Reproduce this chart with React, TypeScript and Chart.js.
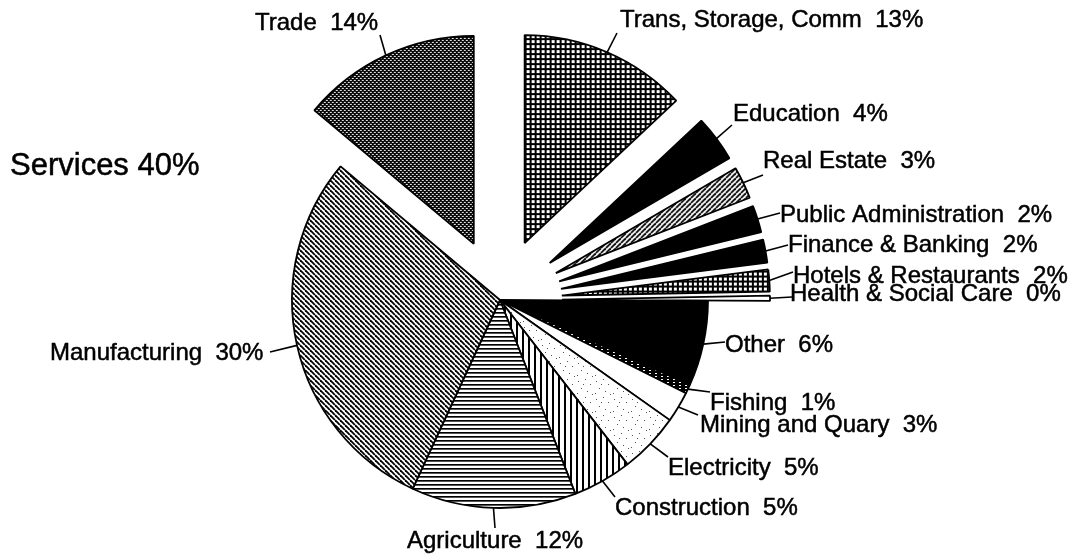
import React, { useEffect, useRef } from "react";
import { Chart, registerables } from "chart.js";

Chart.register(...registerables);

// ---- data (clockwise from 12 o'clock) ----
const categories: string[] = [
  "Trans, Storage, Comm",
  "Education",
  "Real Estate",
  "Public Administration",
  "Finance & Banking",
  "Hotels & Restaurants",
  "Health & Social Care",
  "Other",
  "Fishing",
  "Mining and Quary",
  "Electricity",
  "Construction",
  "Agriculture",
  "Manufacturing",
  "Trade",
];
// slice sizes (percent of the circle)
const shares: number[] = [13.0, 3.6, 2.5, 2.1, 1.8, 1.7, 0.4, 6.6, 0.7, 2.4, 4.7, 4.6, 12.8, 29.2, 13.9];
// percentages printed on the labels
const printedPct: number[] = [13, 4, 3, 2, 2, 2, 0, 6, 1, 3, 5, 5, 12, 30, 14];
const sectors: string[] = [
  "Services", "Services", "Services", "Services", "Services", "Services", "Services",
  "Other", "Other", "Other", "Other", "Other", "Other", "Other",
  "Services",
];
const fillKinds: string[] = [
  "grid", "black", "slash", "black", "black", "grid", "white",
  "black", "speckle", "white", "stipple", "vlines", "hlines", "backslash",
  "dots",
];

// ---- layout / style (not data) ----
const EXPLODE = 62;
const FONT = "24px 'Liberation Sans', Arial, Helvetica, sans-serif";
const BIG_FONT = "31px 'Liberation Sans', Arial, Helvetica, sans-serif";
// leader line end points and label text anchors (left, baseline)
const labelLineEnd: [number, number][] = [
  [617, 33], [732, 125], [763, 175], [780, 213], [788, 245], [793, 272], [792, 297],
  [725, 342], [710, 392], [698, 415], [668, 457], [615, 497], [495, 528], [270, 352],
  [380, 35],
];
const labelText: [number, number][] = [
  [620, 27], [733, 121], [763, 168], [780, 222], [788, 252], [793, 283], [790, 301],
  [725, 352], [710, 410], [700, 432], [668, 475], [615, 515], [407, 548], [50, 360],
  [255, 30],
];
const servicesTitlePos: [number, number] = [10, 175];

function tile(w: number, h: number, draw: (g: CanvasRenderingContext2D) => void) {
  const c = document.createElement("canvas");
  c.width = w;
  c.height = h;
  const g = c.getContext("2d")!;
  draw(g);
  return c;
}

function makeFill(ctx: CanvasRenderingContext2D, kind: string): string | CanvasPattern {
  let t: HTMLCanvasElement | null = null;
  switch (kind) {
    case "black":
      return "#000";
    case "white":
      return "#fff";
    case "dots":
      t = tile(4, 4, (g) => {
        g.fillStyle = "#000";
        g.fillRect(0, 0, 4, 4);
        g.fillStyle = "#fff";
        g.fillRect(0, 0, 2, 1);
        g.fillRect(2, 2, 2, 1);
      });
      break;
    case "grid":
      t = tile(5, 5, (g) => {
        g.fillStyle = "#000";
        g.fillRect(0, 0, 5, 5);
        g.fillStyle = "#fff";
        g.fillRect(2, 2, 3, 3);
      });
      break;
    case "slash":
      t = tile(5, 5, (g) => {
        g.fillStyle = "#fff";
        g.fillRect(0, 0, 5, 5);
        g.strokeStyle = "#000";
        g.lineWidth = 1.8;
        for (let k = -1; k <= 1; k++) {
          g.beginPath();
          g.moveTo(k * 5, 5);
          g.lineTo(k * 5 + 5, 0);
          g.stroke();
        }
      });
      break;
    case "backslash":
      t = tile(5, 5, (g) => {
        g.fillStyle = "#fff";
        g.fillRect(0, 0, 5, 5);
        g.strokeStyle = "#000";
        g.lineWidth = 1.8;
        for (let k = -1; k <= 1; k++) {
          g.beginPath();
          g.moveTo(k * 5, 0);
          g.lineTo(k * 5 + 5, 5);
          g.stroke();
        }
      });
      break;
    case "hlines":
      t = tile(4, 4, (g) => {
        g.fillStyle = "#fff";
        g.fillRect(0, 0, 4, 4);
        g.fillStyle = "#000";
        g.fillRect(0, 0, 4, 1);
        g.fillStyle = "#555";
        g.fillRect(0, 1, 4, 1);
      });
      break;
    case "vlines":
      t = tile(6, 6, (g) => {
        g.fillStyle = "#fff";
        g.fillRect(0, 0, 6, 6);
        g.fillStyle = "#000";
        g.fillRect(0, 0, 2, 6);
      });
      break;
    case "stipple":
      t = tile(18, 18, (g) => {
        g.fillStyle = "#fff";
        g.fillRect(0, 0, 18, 18);
        g.fillStyle = "#555";
        const pts = [[2, 3], [9, 1], [14, 6], [5, 10], [11, 13], [16, 16], [1, 15], [7, 6]];
        pts.forEach(([x, y]) => g.fillRect(x, y, 1, 1));
      });
      break;
    case "speckle":
      t = tile(6, 3, (g) => {
        g.fillStyle = "#000";
        g.fillRect(0, 0, 6, 3);
        g.fillStyle = "#fff";
        g.fillRect(1, 1, 2, 1);
      });
      break;
  }
  if (!t) return "#888";
  return ctx.createPattern(t, "repeat") as CanvasPattern;
}

const explodePlugin = {
  id: "explode",
  beforeDatasetDraw(chart: any, args: any) {
    const ctx: CanvasRenderingContext2D = chart.ctx;
    const meta = args.meta;
    meta.data.forEach((el: any, i: number) => {
      const d = sectors[i] === "Services" ? EXPLODE : 0;
      const mid = (el.startAngle + el.endAngle) / 2;
      ctx.save();
      ctx.translate(Math.cos(mid) * d, Math.sin(mid) * d);
      el.draw(ctx);
      ctx.restore();
    });
    return false;
  },
};

const labelPlugin = {
  id: "pieLabels",
  afterDraw(chart: any) {
    const ctx: CanvasRenderingContext2D = chart.ctx;
    const meta = chart.getDatasetMeta(0);
    ctx.save();
    ctx.strokeStyle = "#000";
    ctx.fillStyle = "#000";
    ctx.font = FONT;
    ctx.textAlign = "left";
    ctx.textBaseline = "alphabetic";
    meta.data.forEach((el: any, i: number) => {
      const d = sectors[i] === "Services" ? EXPLODE : 0;
      const mid = (el.startAngle + el.endAngle) / 2;
      const r = el.outerRadius + d;
      const sx = el.x + Math.cos(mid) * r;
      const sy = el.y + Math.sin(mid) * r;
      const [ex, ey] = labelLineEnd[i];
      ctx.lineWidth = 1.6;
      ctx.beginPath();
      ctx.moveTo(sx, sy);
      ctx.lineTo(ex, ey);
      ctx.stroke();
      const [tx, ty] = labelText[i];
      const txt = `${categories[i]}  ${printedPct[i]}%`;
      ctx.fillText(txt, tx, ty);
      ctx.lineWidth = 0.5;
      ctx.strokeText(txt, tx, ty);
    });
    const servicesTotal = printedPct.reduce((s, v, i) => (sectors[i] === "Services" ? s + v : s), 0);
    ctx.font = BIG_FONT;
    const title = `Services ${servicesTotal}%`;
    ctx.fillText(title, servicesTitlePos[0], servicesTitlePos[1]);
    ctx.lineWidth = 0.5;
    ctx.strokeText(title, servicesTitlePos[0], servicesTitlePos[1]);
    ctx.restore();
  },
};

export default function App() {
  const ref = useRef<HTMLCanvasElement>(null);
  useEffect(() => {
    const canvas = ref.current!;
    const ctx = canvas.getContext("2d")!;
    const fills = fillKinds.map((k) => makeFill(ctx, k));
    const chart = new Chart(canvas, {
      type: "pie",
      data: {
        labels: categories,
        datasets: [
          {
            data: shares,
            backgroundColor: fills as any,
            borderColor: "#000",
            borderWidth: 1.8,
          },
        ],
      },
      options: {
        responsive: false,
        animation: false,
        radius: 208,
        layout: { padding: { left: 0, right: 72, top: 44, bottom: 0 } },
        plugins: {
          legend: { display: false },
          tooltip: { enabled: false },
        },
      } as any,
      plugins: [explodePlugin, labelPlugin],
    });
    return () => chart.destroy();
  }, []);
  return (
    <div style={{ position: "absolute", left: 0, top: 0, width: 1072, height: 556, background: "#fff" }}>
      <canvas ref={ref} width={1072} height={556} style={{ display: "block" }} />
    </div>
  );
}
